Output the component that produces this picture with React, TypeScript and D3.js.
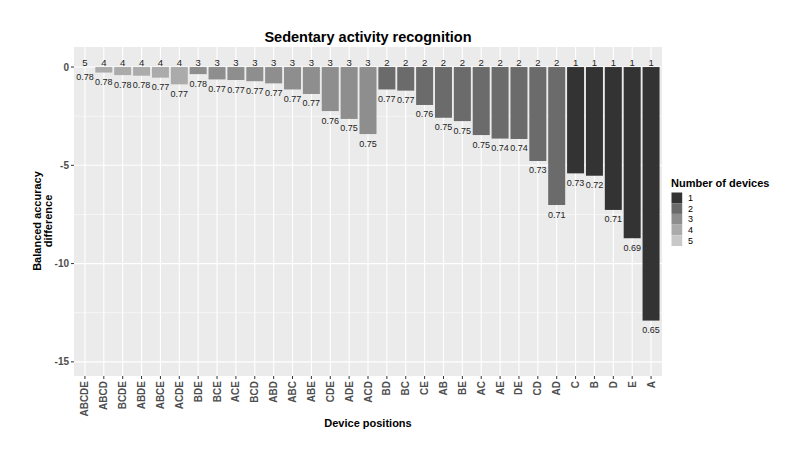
import React from 'react';
import * as d3 from 'd3';

const positions = [
  'ABCDE', 'ABCD', 'BCDE', 'ABDE', 'ABCE', 'ACDE',
  'BDE', 'BCE', 'ACE', 'BCD', 'ABD', 'ABC', 'ABE', 'CDE', 'ADE', 'ACD',
  'BD', 'BC', 'CE', 'AB', 'BE', 'AC', 'AE', 'DE', 'CD', 'AD',
  'C', 'B', 'D', 'E', 'A',
];
const devices = [5, 4, 4, 4, 4, 4, 3, 3, 3, 3, 3, 3, 3, 3, 3, 3, 2, 2, 2, 2, 2, 2, 2, 2, 2, 2, 1, 1, 1, 1, 1];
const difference = [
  0, -0.28, -0.41, -0.44, -0.54, -0.88,
  -0.36, -0.63, -0.66, -0.72, -0.83, -1.14, -1.37, -2.24, -2.64, -3.41,
  -1.14, -1.2, -1.93, -2.58, -2.75, -3.46, -3.64, -3.66, -4.78, -7.02,
  -5.41, -5.53, -7.27, -8.71, -12.9,
];
const accuracy = [
  '0.78', '0.78', '0.78', '0.78', '0.77', '0.77',
  '0.78', '0.77', '0.77', '0.77', '0.77', '0.77', '0.77', '0.76', '0.75', '0.75',
  '0.77', '0.77', '0.76', '0.75', '0.75', '0.75', '0.74', '0.74', '0.73', '0.71',
  '0.73', '0.72', '0.71', '0.69', '0.65',
];
const deviceLevels = [1, 2, 3, 4, 5];
const greys = ['#333333', '#6b6b6b', '#8e8e8e', '#ababab', '#c8c8c8'];
const yTicks = [0, -5, -10, -15];
const yMinor = [-2.5, -7.5, -12.5];

const W = 800;
const H = 454;
const panel = { left: 74, right: 662, top: 47, bottom: 376 };
const font = '"Liberation Sans", Arial, sans-serif';

const App: React.FC = () => {
  const expand = 0.58;
  const step = (panel.right - panel.left) / (positions.length - 1 + 2 * expand);
  const x = d3.scalePoint<string>()
    .domain(positions)
    .range([panel.left + expand * step, panel.right - expand * step]);
  const bw = step * 0.9;

  const y = d3.scaleLinear()
    .domain([-15.72, 1.02])
    .range([panel.bottom, panel.top]);

  const fill = d3.scaleOrdinal<number, string>().domain(deviceLevels).range(greys);

  return (
    <svg width={W} height={H} style={{ position: 'absolute', left: 0, top: 0, background: '#fff' }} fontFamily={font}>
      <text x={(panel.left + panel.right) / 2} y={42} textAnchor="middle" fontSize={14.5} fontWeight="bold" fill="#000">
        Sedentary activity recognition
      </text>

      <rect x={panel.left} y={panel.top} width={panel.right - panel.left} height={panel.bottom - panel.top} fill="#ebebeb" />
      {yMinor.map((t) => (
        <line key={'mn' + t} x1={panel.left} x2={panel.right} y1={y(t)} y2={y(t)} stroke="#fff" strokeWidth={0.55} />
      ))}
      {yTicks.map((t) => (
        <line key={'mj' + t} x1={panel.left} x2={panel.right} y1={y(t)} y2={y(t)} stroke="#fff" strokeWidth={1.1} />
      ))}
      {positions.map((p) => (
        <line key={'vg' + p} x1={x(p)} x2={x(p)} y1={panel.top} y2={panel.bottom} stroke="#fff" strokeWidth={1.1} />
      ))}

      {positions.map((p, i) => (
        <rect
          key={'b' + p}
          x={(x(p) as number) - bw / 2}
          y={y(0)}
          width={bw}
          height={y(difference[i]) - y(0)}
          fill={fill(devices[i])}
        />
      ))}

      {positions.map((p, i) => (
        <text key={'c' + p} x={x(p)} y={y(0) - 1.5} textAnchor="middle" fontSize={9.5} fill="#222">
          {devices[i]}
        </text>
      ))}
      {positions.map((p, i) => (
        <text key={'a' + p} x={x(p)} y={y(difference[i]) + 12.5} textAnchor="middle" fontSize={9} fill="#222">
          {accuracy[i]}
        </text>
      ))}

      {yTicks.map((t) => (
        <g key={'yt' + t}>
          <line x1={panel.left - 3} x2={panel.left} y1={y(t)} y2={y(t)} stroke="#333" strokeWidth={1} />
          <text x={panel.left - 5} y={y(t)} dy="0.35em" textAnchor="end" fontSize={10} fontWeight="bold" fill="#4d4d4d">
            {t}
          </text>
        </g>
      ))}
      {positions.map((p) => (
        <g key={'xt' + p}>
          <line x1={x(p)} x2={x(p)} y1={panel.bottom} y2={panel.bottom + 3} stroke="#333" strokeWidth={1} />
          <text
            transform={`translate(${x(p)},${panel.bottom + 5}) rotate(-90)`}
            dy="0.35em"
            textAnchor="end"
            fontSize={10}
            fontWeight="bold"
            fill="#4d4d4d"
          >
            {p}
          </text>
        </g>
      ))}

      <text x={(panel.left + panel.right) / 2} y={427} textAnchor="middle" fontSize={11} fontWeight="bold" fill="#000">
        Device positions
      </text>
      <text transform="translate(41,221) rotate(-90)" textAnchor="middle" fontSize={11} fontWeight="bold" fill="#000">
        <tspan x={0} dy={0}>Balanced accuracy</tspan>
        <tspan x={0} dy={10.5}>difference</tspan>
      </text>

      <text x={671} y={187} fontSize={11} fontWeight="bold" fill="#000">Number of devices</text>
      {deviceLevels.map((d, i) => (
        <g key={'lg' + d}>
          <rect x={671.5} y={192.5 + i * 10.7} width={10.7} height={10.7} fill={fill(d)} />
          <text x={688} y={192.5 + i * 10.7 + 5.35} dy="0.35em" fontSize={9} fill="#000">{d}</text>
        </g>
      ))}
    </svg>
  );
};

export default App;
